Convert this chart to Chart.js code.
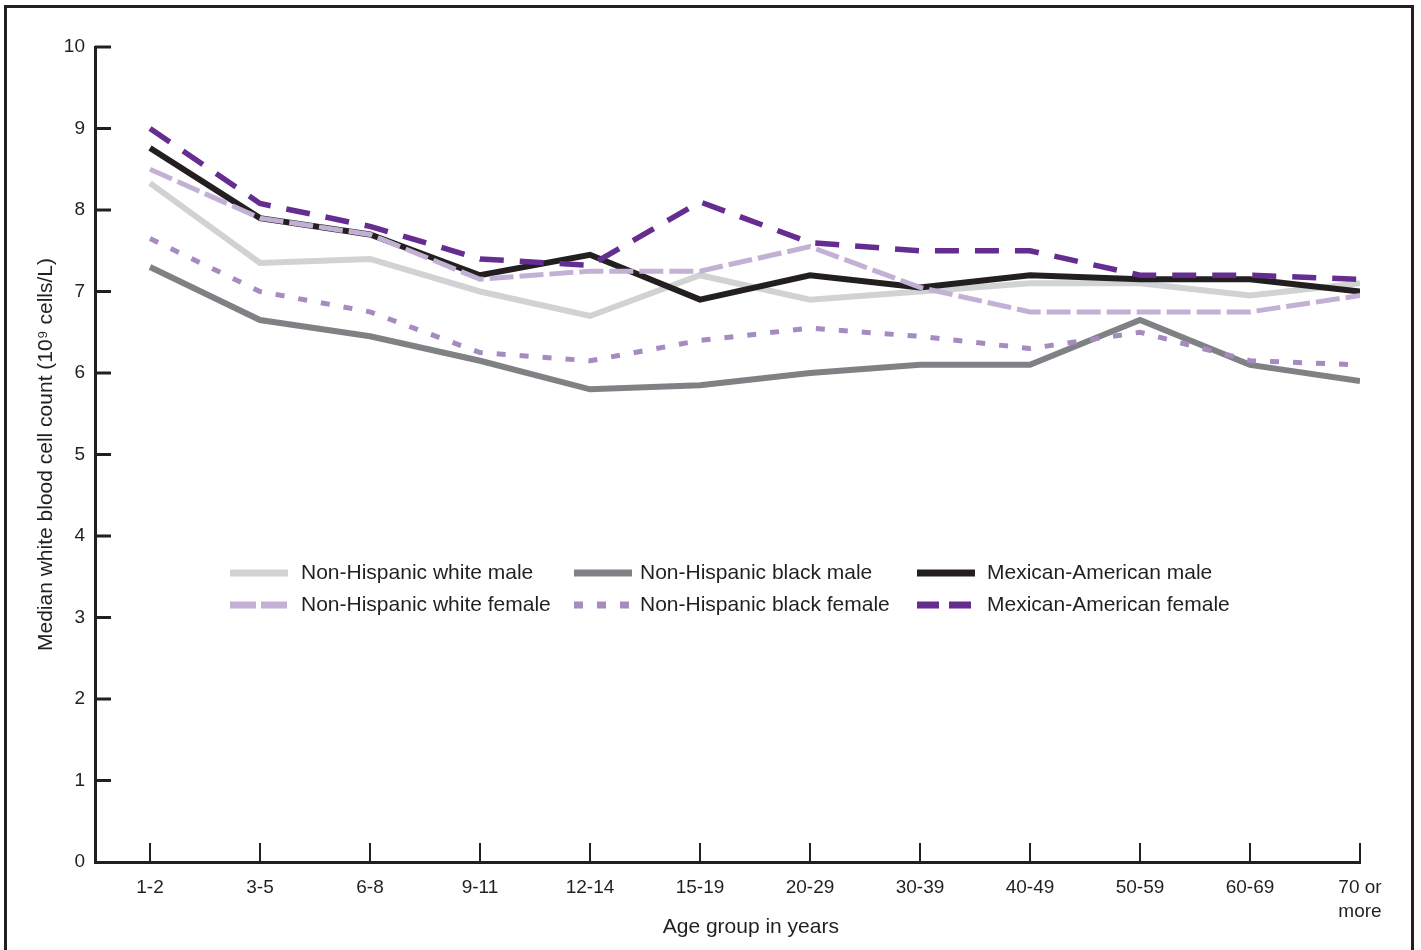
<!DOCTYPE html>
<html>
<head>
<meta charset="utf-8">
<script src="https://cdn.jsdelivr.net/npm/chart.js@4.4.1/dist/chart.umd.min.js"></script>
<style>
  html, body { margin: 0; padding: 0; background: #fff; }
  #wrap { position: relative; width: 1421px; height: 950px; }
  #legend { position: absolute; left: 0; top: 0; font-family: "Liberation Sans", Arial, sans-serif; font-size: 21px; color: #231f20; }
  .item { position: absolute; height: 24px; line-height: 24px; white-space: nowrap; }
  .item svg { position: absolute; left: 0; top: 9px; }
  .item span { position: absolute; top: 0; }
</style>
</head>
<body>
<div id="wrap">
  <canvas id="myChart" width="1421" height="950"></canvas>
  <div id="legend"></div>
</div>
<script>
var ageGroups = ["1-2", "3-5", "6-8", "9-11", "12-14", "15-19", "20-29", "30-39", "40-49", "50-59", "60-69", ["70 or", "more"]];
var yTicks = [0, 1, 2, 3, 4, 5, 6, 7, 8, 9, 10];

var whiteMale = [8.33, 7.35, 7.4, 7.0, 6.7, 7.2, 6.9, 7.0, 7.1, 7.1, 6.95, 7.1];
var whiteFemale = [8.5, 7.9, 7.7, 7.15, 7.25, 7.25, 7.55, 7.05, 6.75, 6.75, 6.75, 6.95];
var blackMale = [7.3, 6.65, 6.45, 6.15, 5.8, 5.85, 6.0, 6.1, 6.1, 6.65, 6.1, 5.9];
var blackFemale = [7.65, 7.0, 6.75, 6.25, 6.15, 6.4, 6.55, 6.45, 6.3, 6.5, 6.15, 6.1];
var mexMale = [8.76, 7.9, 7.7, 7.2, 7.45, 6.9, 7.2, 7.05, 7.2, 7.15, 7.15, 7.0];
var mexFemale = [9.0, 8.08, 7.8, 7.4, 7.32, 8.1, 7.6, 7.5, 7.5, 7.2, 7.2, 7.15];

var ink = "#231f20";
var fontFamily = "'Liberation Sans', Arial, sans-serif";

function pts(values) {
  return values.map(function (v, i) { return { x: i, y: v }; });
}

var series = [
  { label: "Non-Hispanic white male", data: whiteMale, color: "#d1d2d4", width: 6, dash: [], legendDash: "", order: 4 },
  { label: "Non-Hispanic black male", data: blackMale, color: "#808184", width: 6, dash: [], legendDash: "", order: 5 },
  { label: "Mexican-American male", data: mexMale, color: "#231f20", width: 6, dash: [], legendDash: "", order: 3 },
  { label: "Non-Hispanic white female", data: whiteFemale, color: "#c3b0d5", width: 5, dash: [24, 6], legendDash: "26,5", order: 1 },
  { label: "Non-Hispanic black female", data: blackFemale, color: "#a58bc0", width: 5, dash: [9, 14], legendDash: "9,14", order: 2 },
  { label: "Mexican-American female", data: mexFemale, color: "#662d91", width: 5.5, dash: [24, 16], legendDash: "22,10", order: 0 }
];

// frame + inward tick marks
var extras = {
  id: "extras",
  afterDraw: function (chart) {
    var c = chart.ctx;
    var xs = chart.scales.x, ys = chart.scales.y;
    c.save();
    c.strokeStyle = ink;
    c.lineWidth = 3;
    c.strokeRect(5.5, 6.5, 1407, 1000);
    yTicks.forEach(function (t) {
      if (t === 0) return;
      var y = ys.getPixelForValue(t);
      c.beginPath();
      c.moveTo(xs.left, y);
      c.lineTo(xs.left + 16, y);
      c.stroke();
    });
    c.lineWidth = 2;
    ageGroups.forEach(function (g, i) {
      var x = Math.round(xs.getPixelForValue(i));
      c.beginPath();
      c.moveTo(x, ys.bottom);
      c.lineTo(x, ys.bottom - 19);
      c.stroke();
    });
    c.restore();
  }
};

var ctx = document.getElementById("myChart").getContext("2d");
var myChart = new Chart(ctx, {
  type: "line",
  data: {
    datasets: series.map(function (s) {
      return {
        label: s.label,
        data: pts(s.data),
        fill: false,
        borderColor: s.color,
        borderWidth: s.width,
        borderDash: s.dash,
        borderJoinStyle: "miter",
        borderCapStyle: "butt",
        pointRadius: 0,
        tension: 0,
        order: s.order
      };
    })
  },
  options: {
    responsive: false,
    animation: false,
    events: [],
    layout: { padding: { top: 47, right: 61, left: 0, bottom: 0 } },
    plugins: { legend: { display: false }, tooltip: { enabled: false } },
    scales: {
      x: {
        type: "linear",
        min: -0.5,
        max: 11,
        afterBuildTicks: function (scale) {
          scale.ticks = ageGroups.map(function (g, i) { return { value: i }; });
        },
        afterFit: function (scale) { scale.height = 88; },
        grid: { display: false, drawTicks: false },
        border: { display: true, color: ink, width: 3 },
        ticks: {
          autoSkip: false,
          maxRotation: 0,
          padding: 14,
          color: ink,
          font: { family: fontFamily, size: 19, lineHeight: 1.25 },
          callback: function (v) { return ageGroups[v]; }
        },
        title: {
          display: true,
          // leading spaces nudge the title right, as in the original
          text: "\u00a0\u00a0\u00a0\u00a0\u00a0\u00a0\u00a0\u00a0Age group in years",
          color: ink,
          font: { family: fontFamily, size: 21 },
          padding: { top: 0, bottom: 10 }
        }
      },
      y: {
        min: 0,
        max: 10,
        afterBuildTicks: function (scale) {
          scale.ticks = yTicks.map(function (t) { return { value: t }; });
        },
        afterFit: function (scale) { scale.width = 95; },
        grid: { display: false, drawTicks: false },
        border: { display: true, color: ink, width: 3 },
        ticks: {
          padding: 10,
          color: ink,
          font: { family: fontFamily, size: 19 }
        },
        title: {
          display: true,
          text: "Median white blood cell count (10\u2079 cells/L)",
          color: ink,
          font: { family: fontFamily, size: 21 },
          padding: { top: 34, bottom: 0 }
        }
      }
    }
  },
  plugins: [extras]
});

// legend, 3 columns x 2 rows inside the plot
var legendCols = [230, 574, 917];
var legendRows = [560, 592];
var textOffsets = [71, 66, 70];
var legendBox = document.getElementById("legend");
series.forEach(function (s, i) {
  var col = i % 3, row = Math.floor(i / 3);
  var div = document.createElement("div");
  div.className = "item";
  div.style.left = legendCols[col] + "px";
  div.style.top = legendRows[row] + "px";
  var dash = s.legendDash ? ' stroke-dasharray="' + s.legendDash + '"' : "";
  div.innerHTML = '<svg width="60" height="8"><line x1="0" y1="4" x2="58" y2="4" stroke="' + s.color + '" stroke-width="7"' + dash + '/></svg>' +
    '<span style="left:' + textOffsets[col] + 'px">' + s.label + '</span>';
  legendBox.appendChild(div);
});
</script>
</body>
</html>
